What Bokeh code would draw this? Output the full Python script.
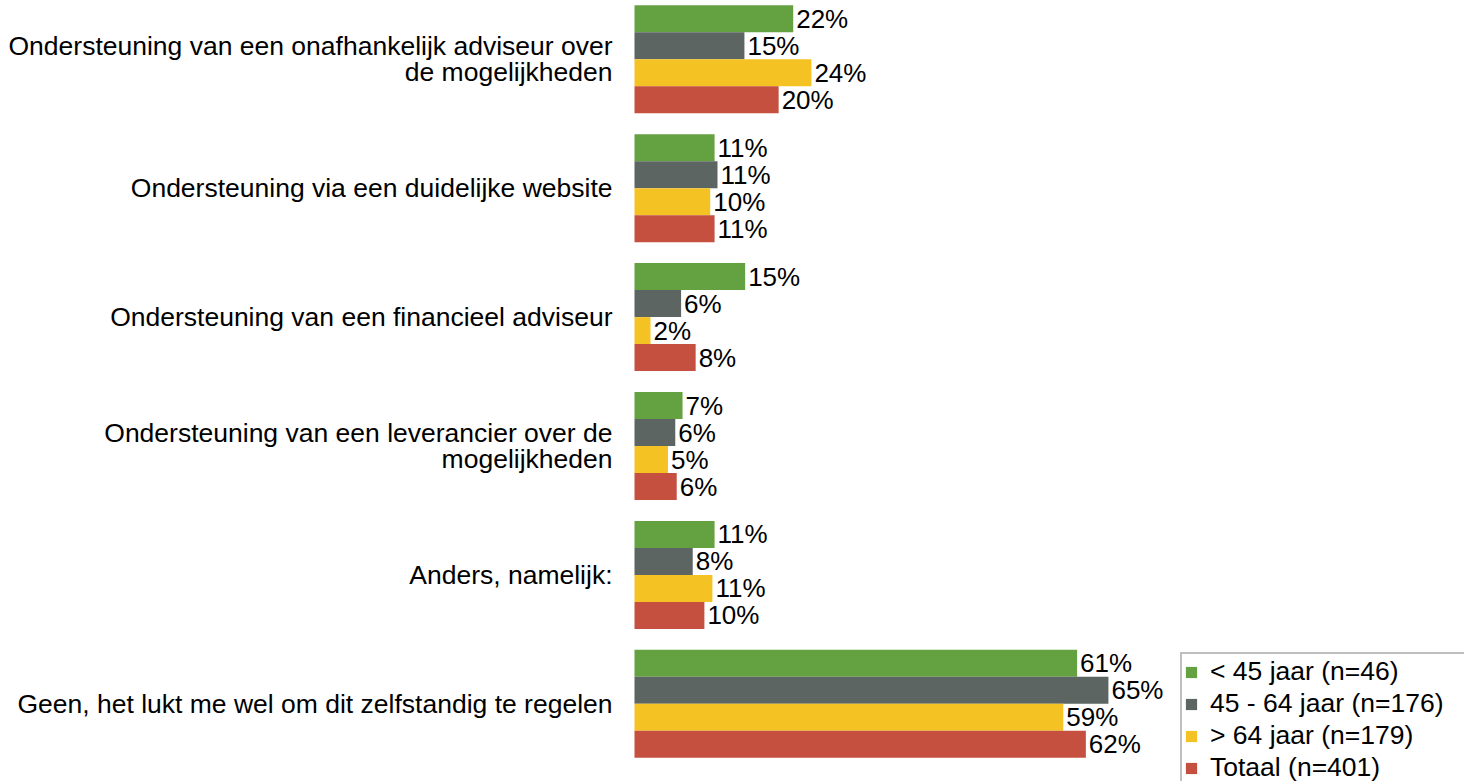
from bokeh.plotting import figure
from bokeh.models import Range1d, Legend, LegendItem, ColumnDataSource
from bokeh.core.properties import value
from bokeh.embed import file_html
from bokeh.resources import INLINE

categories = [
    "Ondersteuning van een onafhankelijk adviseur over\nde mogelijkheden",
    "Ondersteuning via een duidelijke website",
    "Ondersteuning van een financieel adviseur",
    "Ondersteuning van een leverancier over de\nmogelijkheden",
    "Anders, namelijk:",
    "Geen, het lukt me wel om dit zelfstandig te regelen",
]
series = ["< 45 jaar (n=46)", "45 - 64 jaar (n=176)", "> 64 jaar (n=179)", "Totaal (n=401)"]
young = [21.8, 11.0, 15.2, 6.6, 11.0, 60.8]
middle = [15.1, 11.4, 6.4, 5.6, 8.0, 65.1]
old = [24.3, 10.4, 2.2, 4.6, 10.7, 58.9]
total = [19.8, 11.0, 8.4, 5.8, 9.6, 62.0]
colors = ["#63a141", "#5d6562", "#f4c323", "#c5503f"]

FONT_NAME = "Liberation Sans"
FONT = value(FONT_NAME)
W, H = 1464, 781
left_px = 634
px_per_pct = 7.28
group_px = 128.9
top_center_px = 58.8

x0 = -left_px / px_per_pct
x1 = (W - left_px) / px_per_pct
y_top = -top_center_px / group_px
y_bot = 5 + (H - (top_center_px + 5 * group_px)) / group_px

p = figure(width=W, height=H, x_range=Range1d(x0, x1), y_range=Range1d(y_bot, y_top),
           toolbar_location=None, output_backend="svg",
           x_axis_location=None, y_axis_location=None, min_border=0)
p.grid.visible = False
p.outline_line_color = None
p.background_fill_color = "white"

bar_h = 27.0 / group_px
renderers = []
for j, vals in enumerate([young, middle, old, total]):
    ys = [i + (j - 1.5) * bar_h for i in range(len(categories))]
    src = ColumnDataSource(dict(y=ys, v=vals, lab=[f"{round(v)}%" for v in vals]))
    r = p.hbar(y="y", left=0, right="v", height=bar_h, source=src,
               fill_color=colors[j], line_color=None)
    renderers.append(r)
    p.text(x="v", y="y", text="lab", source=src, x_offset=3,
           text_align="left", text_baseline="middle", text_font=FONT,
           text_font_size="26px", text_color="black")

p.text(x=[0] * len(categories), y=list(range(len(categories))), text=categories,
       x_offset=-22, text_align="right", text_baseline="middle", text_font=FONT,
       text_font_size="26.5px", text_color="black", text_line_height=0.88)

legend = Legend(items=[LegendItem(label=s, renderers=[r]) for s, r in zip(series, renderers)],
                location=(1180, -6), glyph_width=14, glyph_height=14, label_standoff=12,
                padding=2, spacing=1, margin=0, label_width=270, border_line_color="#808080",
                border_line_width=2, label_text_font=FONT_NAME, label_text_font_size="26.5px",
                label_text_color="black", background_fill_color="white", background_fill_alpha=1)
p.add_layout(legend)

open("out.html", "w").write(file_html(p, INLINE))
